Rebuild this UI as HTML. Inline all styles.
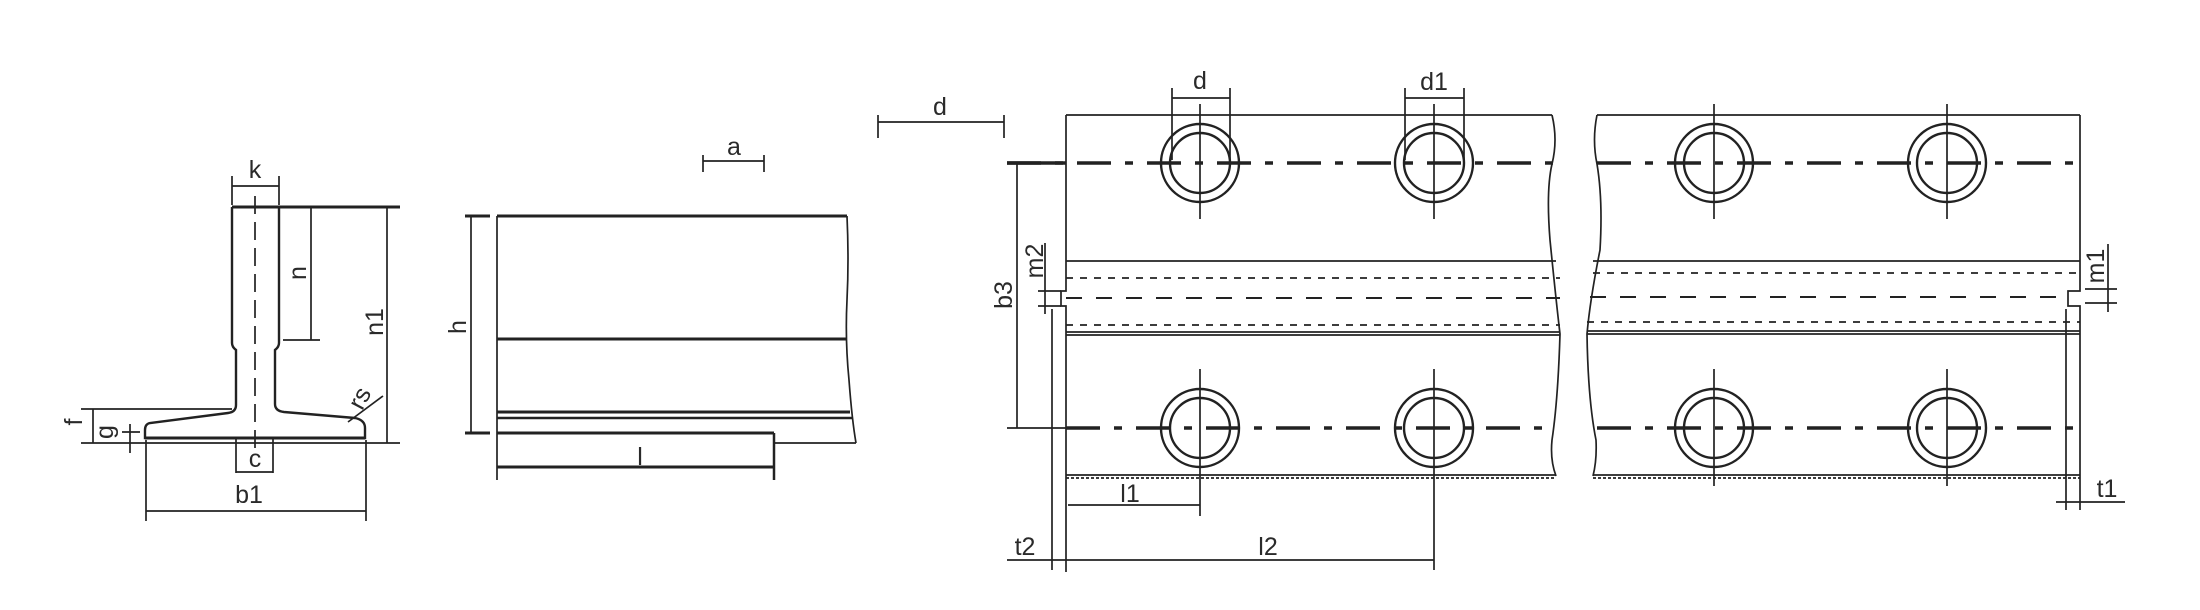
<!DOCTYPE html>
<html><head><meta charset="utf-8"><style>
html,body{margin:0;padding:0;background:#fff;}
svg{display:block;}
text{font-family:"Liberation Sans",sans-serif;font-size:25px;fill:#2a2a2a;}
</style></head><body>
<svg width="2200" height="610" viewBox="0 0 2200 610" xmlns="http://www.w3.org/2000/svg">
<g stroke="#222" fill="none" stroke-width="1.7">
<!-- T profile -->
<path d="M232 207 L232 343 Q232 347 236 350 L236 405 Q236 412 228 413 L150 423 Q145 424 145 430 L145 438 L365 438 L365 428 Q365 420 355 418 L284 412 Q275 411 275 404 L275 350 Q279 347 279 343 L279 207" stroke-width="2.4"/>
<line x1="232" y1="207" x2="400" y2="207" stroke-width="3"/>
<line x1="145" y1="438" x2="365" y2="438" stroke-width="3"/>
<line x1="255" y1="196" x2="255" y2="452" stroke-dasharray="18 8"/>
<line x1="232" y1="176" x2="232" y2="205"/><line x1="279" y1="176" x2="279" y2="205"/>
<line x1="232" y1="186" x2="279" y2="186"/>
<line x1="311" y1="207" x2="311" y2="340"/><line x1="283" y1="340" x2="320" y2="340"/>
<line x1="387" y1="207" x2="387" y2="443"/>
<line x1="81" y1="443" x2="400" y2="443"/>
<line x1="81" y1="409" x2="232" y2="409"/>
<line x1="93" y1="409" x2="93" y2="443"/>
<line x1="130" y1="424" x2="130" y2="453"/><line x1="122" y1="432" x2="140" y2="432"/>
<line x1="236" y1="438" x2="236" y2="473"/><line x1="273" y1="438" x2="273" y2="473"/>
<line x1="236" y1="472" x2="273" y2="472"/>
<line x1="146" y1="440" x2="146" y2="521"/><line x1="366" y1="440" x2="366" y2="521"/>
<line x1="146" y1="511" x2="366" y2="511"/>
<line x1="348" y1="422" x2="383" y2="396"/>
<!-- side view -->
<line x1="465" y1="216" x2="490" y2="216" stroke-width="3"/>
<line x1="497" y1="216" x2="847" y2="216" stroke-width="3"/>
<line x1="497" y1="216" x2="497" y2="480"/>
<line x1="471" y1="216" x2="471" y2="433"/>
<line x1="465" y1="433" x2="490" y2="433" stroke-width="3"/>
<line x1="497" y1="339" x2="847" y2="339" stroke-width="3"/>
<line x1="497" y1="412" x2="850" y2="412" stroke-width="3"/>
<line x1="497" y1="418" x2="852" y2="418" stroke-width="2.5"/>
<line x1="497" y1="433" x2="774" y2="433" stroke-width="3"/>
<line x1="497" y1="467" x2="774" y2="467" stroke-width="3"/>
<line x1="774" y1="433" x2="774" y2="480" stroke-width="2.5"/>
<line x1="774" y1="443" x2="856" y2="443"/>
<path d="M847 216 Q849 260 847 300 Q845 340 849 380 Q852 420 856 443"/>
<line x1="703" y1="161" x2="764" y2="161"/>
<line x1="703" y1="155" x2="703" y2="172"/><line x1="764" y1="155" x2="764" y2="172"/>
<!-- left d -->
<line x1="878" y1="122" x2="1004" y2="122"/>
<line x1="878" y1="115" x2="878" y2="138"/><line x1="1004" y1="115" x2="1004" y2="138"/>
<!-- left plate -->
<line x1="1066" y1="115" x2="1552" y2="115" stroke-width="1.8"/>
<path d="M1066 115 L1066 291 L1061 291 L1061 306 L1066 306 L1066 572"/>
<path d="M1552 115 Q1558 140 1552 164 Q1546 190 1550 240 Q1556 300 1560 334 Q1558 400 1552 440 Q1550 460 1556 476"/>
<line x1="1066" y1="261" x2="1556" y2="261"/>
<line x1="1066" y1="278" x2="1560" y2="278" stroke-dasharray="7 7"/>
<line x1="1066" y1="298" x2="1560" y2="298" stroke-dasharray="16 14" stroke-width="2"/>
<line x1="1066" y1="325" x2="1560" y2="325" stroke-dasharray="7 7"/>
<line x1="1066" y1="332" x2="1560" y2="332"/>
<line x1="1066" y1="335" x2="1560" y2="335"/>
<line x1="1066" y1="475" x2="1556" y2="475"/>
<line x1="1066" y1="478" x2="1556" y2="478" stroke-dasharray="3 2"/>
<!-- right plate -->
<line x1="1597" y1="115" x2="2080" y2="115" stroke-width="1.8"/>
<path d="M1597 115 Q1592 140 1597 164 Q1603 200 1600 250 Q1590 300 1587 334 Q1588 400 1596 440 Q1597 460 1593 476"/>
<path d="M2080 115 L2080 291 L2068 291 L2068 306 L2080 306 L2080 476"/>
<line x1="1593" y1="261" x2="2080" y2="261"/>
<line x1="1593" y1="273" x2="2076" y2="273" stroke-dasharray="7 7"/>
<line x1="1590" y1="297" x2="2066" y2="297" stroke-dasharray="16 14" stroke-width="2"/>
<line x1="1587" y1="322" x2="2080" y2="322" stroke-dasharray="7 7"/>
<line x1="1587" y1="331" x2="2080" y2="331"/>
<line x1="1587" y1="334" x2="2080" y2="334"/>
<line x1="1593" y1="475" x2="2080" y2="475"/>
<line x1="1593" y1="478" x2="2080" y2="478" stroke-dasharray="3 2"/>
<!-- centerlines -->
<g stroke-width="3.5" stroke-dasharray="34 14 8 14">
<line x1="1007" y1="163" x2="1556" y2="163"/>
<line x1="1597" y1="163" x2="2080" y2="163"/>
<line x1="1066" y1="428" x2="1556" y2="428"/>
<line x1="1597" y1="428" x2="2080" y2="428"/>
</g>
<line x1="1007" y1="163" x2="1066" y2="163" stroke-width="3.5"/>
<line x1="1007" y1="428" x2="1066" y2="428"/>
<!-- holes -->
<g stroke-width="2.4">
<circle cx="1200" cy="163" r="39"/><circle cx="1200" cy="163" r="30"/>
<circle cx="1434" cy="163" r="39"/><circle cx="1434" cy="163" r="30"/>
<circle cx="1714" cy="163" r="39"/><circle cx="1714" cy="163" r="30"/>
<circle cx="1947" cy="163" r="39"/><circle cx="1947" cy="163" r="30"/>
<circle cx="1200" cy="428" r="39"/><circle cx="1200" cy="428" r="30"/>
<circle cx="1434" cy="428" r="39"/><circle cx="1434" cy="428" r="30"/>
<circle cx="1714" cy="428" r="39"/><circle cx="1714" cy="428" r="30"/>
<circle cx="1947" cy="428" r="39"/><circle cx="1947" cy="428" r="30"/>
</g>
<line x1="1200" y1="104" x2="1200" y2="219"/><line x1="1434" y1="104" x2="1434" y2="219"/>
<line x1="1714" y1="104" x2="1714" y2="219"/><line x1="1947" y1="104" x2="1947" y2="219"/>
<line x1="1200" y1="369" x2="1200" y2="516"/><line x1="1434" y1="369" x2="1434" y2="570"/>
<line x1="1714" y1="369" x2="1714" y2="486"/><line x1="1947" y1="369" x2="1947" y2="486"/>
<!-- d / d1 dims -->
<line x1="1172" y1="88" x2="1172" y2="160"/><line x1="1230" y1="88" x2="1230" y2="160"/>
<line x1="1172" y1="98" x2="1230" y2="98"/>
<line x1="1405" y1="88" x2="1405" y2="160"/><line x1="1464" y1="88" x2="1464" y2="160"/>
<line x1="1405" y1="98" x2="1464" y2="98"/>
<!-- b3, m2, t2, l1, l2 -->
<line x1="1017" y1="164" x2="1017" y2="428"/>
<line x1="1045" y1="243" x2="1045" y2="314"/>
<line x1="1038" y1="291" x2="1061" y2="291"/><line x1="1038" y1="306" x2="1061" y2="306"/>
<line x1="1052" y1="309" x2="1052" y2="570"/>
<line x1="1007" y1="560" x2="1434" y2="560"/>
<line x1="1068" y1="505" x2="1200" y2="505"/>
<!-- m1, t1 -->
<line x1="2108" y1="244" x2="2108" y2="312"/>
<line x1="2085" y1="289" x2="2117" y2="289"/><line x1="2085" y1="303" x2="2117" y2="303"/>
<line x1="2066" y1="309" x2="2066" y2="510"/>
<line x1="2080" y1="476" x2="2080" y2="510"/>
<line x1="2056" y1="502" x2="2125" y2="502"/>
</g>
<!-- labels -->
<text x="255" y="178" text-anchor="middle">k</text>
<text transform="translate(306,273) rotate(-90)" text-anchor="middle">n</text>
<text transform="translate(383,322) rotate(-90)" text-anchor="middle">n1</text>
<text transform="translate(82,422) rotate(-90)" text-anchor="middle">f</text>
<text transform="translate(113,432) rotate(-90)" text-anchor="middle">g</text>
<text x="255" y="467" text-anchor="middle">c</text>
<text x="249" y="503" text-anchor="middle">b1</text>
<text transform="translate(367,402) rotate(-62)" text-anchor="middle">rs</text>
<text transform="translate(466,327) rotate(-90)" text-anchor="middle">h</text>
<text x="734" y="155" text-anchor="middle">a</text>
<text x="640" y="465" text-anchor="middle">l</text>
<text x="940" y="115" text-anchor="middle">d</text>
<text x="1200" y="89" text-anchor="middle">d</text>
<text x="1434" y="90" text-anchor="middle">d1</text>
<text transform="translate(1012,295) rotate(-90)" text-anchor="middle">b3</text>
<text transform="translate(1043,261) rotate(-90)" text-anchor="middle">m2</text>
<text x="1130" y="502" text-anchor="middle">l1</text>
<text x="1268" y="555" text-anchor="middle">l2</text>
<text x="1025" y="555" text-anchor="middle">t2</text>
<text transform="translate(2104,266) rotate(-90)" text-anchor="middle">m1</text>
<text x="2107" y="497" text-anchor="middle">t1</text>
</svg>
</body></html>
